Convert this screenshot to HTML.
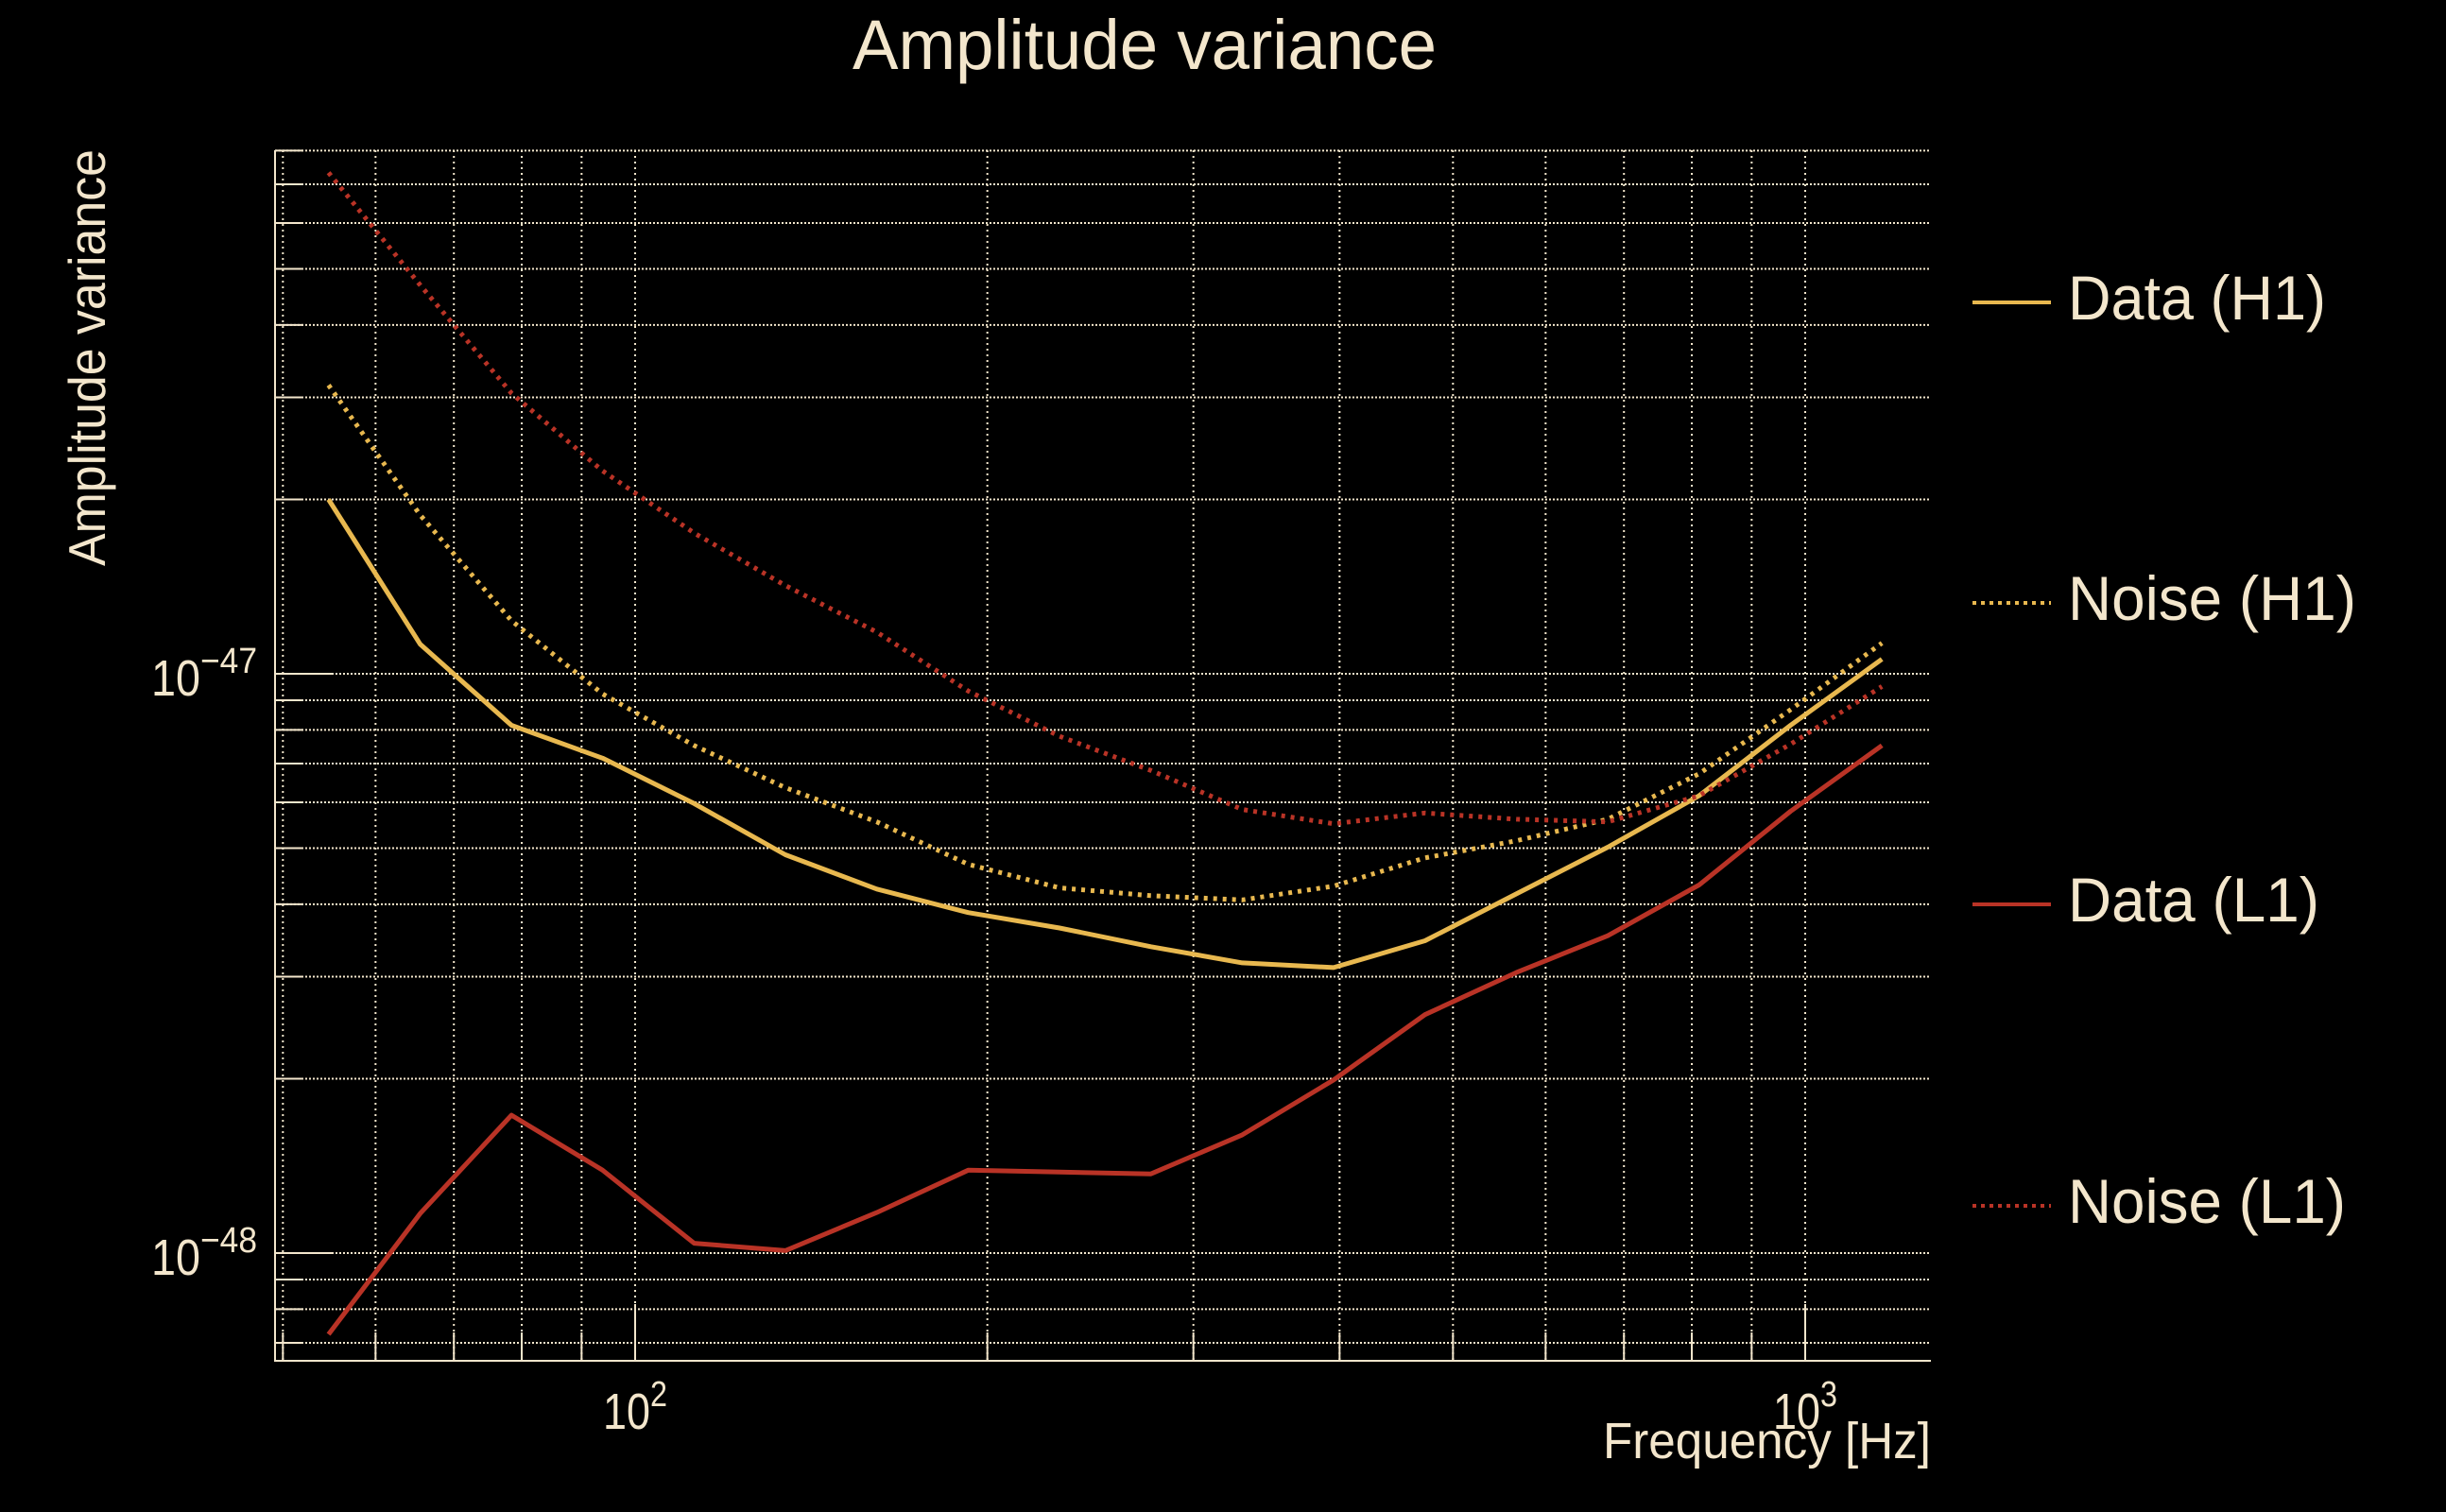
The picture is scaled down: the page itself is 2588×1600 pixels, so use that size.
<!DOCTYPE html>
<html><head><meta charset="utf-8"><style>
html,body{margin:0;padding:0;background:#000;}
svg{display:block;}
text{font-family:"Liberation Sans",sans-serif;fill:#f3e6cc;}
</style></head><body>
<svg id="chart" width="2588" height="1600" viewBox="0 0 2588 1600" xmlns="http://www.w3.org/2000/svg">
<rect width="2588" height="1600" fill="#000"/>
<text x="1211" y="73" font-size="74" text-anchor="middle" textLength="618" lengthAdjust="spacingAndGlyphs">Amplitude variance</text>
<text transform="translate(111,158) rotate(-90)" font-size="55" text-anchor="end" textLength="441" lengthAdjust="spacingAndGlyphs">Amplitude variance</text>
<text x="2043" y="1543" font-size="54" text-anchor="end" textLength="347" lengthAdjust="spacingAndGlyphs">Frequency [Hz]</text>
<g id="grid"></g>
<g id="series"></g>
<g id="legend"></g>
</svg>
<script>
const freqs = [54.7, 65.5, 78.4, 93.8, 112.3, 134.4, 160.9, 192.6, 230.5, 275.9, 330.3, 395.3, 473.2, 566.4, 678, 811.6, 971.5, 1163];
const dataH1 = [2.00e-47, 1.125e-47, 8.15e-48, 7.15e-48, 5.97e-48, 4.87e-48, 4.25e-48, 3.87e-48, 3.64e-48, 3.38e-48, 3.17e-48, 3.11e-48, 3.46e-48, 4.17e-48, 5.02e-48, 6.16e-48, 8.15e-48, 1.06e-47];
const noiseH1 = [3.15e-47, 1.88e-47, 1.235e-47, 9.23e-48, 7.52e-48, 6.36e-48, 5.55e-48, 4.69e-48, 4.27e-48, 4.14e-48, 4.07e-48, 4.30e-48, 4.81e-48, 5.15e-48, 5.61e-48, 6.72e-48, 8.67e-48, 1.13e-47];
const dataL1 = [7.24e-49, 1.17e-48, 1.73e-48, 1.39e-48, 1.04e-48, 1.01e-48, 1.175e-48, 1.39e-48, 1.38e-48, 1.37e-48, 1.60e-48, 1.99e-48, 2.58e-48, 3.05e-48, 3.53e-48, 4.32e-48, 5.79e-48, 7.52e-48];
const noiseL1 = [7.33e-47, 4.69e-47, 3.05e-47, 2.24e-47, 1.75e-47, 1.42e-47, 1.18e-47, 9.34e-48, 7.80e-48, 6.81e-48, 5.83e-48, 5.51e-48, 5.75e-48, 5.61e-48, 5.55e-48, 6.16e-48, 7.56e-48, 9.51e-48];
const legendLabels = ["Data (H1)", "Noise (H1)", "Data (L1)", "Noise (L1)"];
const legendWidths = [273, 305, 266, 294];
const xTickExps = [2, 3];
const yTickExps = [-48, -47];

const NS = "http://www.w3.org/2000/svg";
const L = 291, R = 2043, T = 159, B = 1440;
const X2 = 672, XDEC = 1238;
const Y47 = 713, YDEC = 613;
function xs(f){ return X2 + (Math.log10(f) - 2) * XDEC; }
function ys(v){ return Y47 - (Math.log10(v) + 47) * YDEC; }
function mk(tag, attrs, parent){ const e = document.createElementNS(NS, tag); for (const k in attrs) e.setAttribute(k, attrs[k]); parent.appendChild(e); return e; }

const grid = document.getElementById('grid');
const cream = "#f3e6cc";
for (let d = 1; d <= 3; d++) for (let m = 1; m <= 9; m++) {
  const f = m * Math.pow(10, d); const x = xs(f);
  if (x < L - 1 || x > R + 1) continue;
  const g = mk('line', {x1:x, x2:x, y1:T, y2:B, stroke:cream, 'stroke-width':2, 'stroke-dasharray':'2 4'}, grid);
  
  
  const t = mk('line', {x1:x, x2:x, y1:B, y2:B-(m===1?60:30), stroke:cream, 'stroke-width':2}, grid);
  
  
}
for (let d = -49; d <= -47; d++) for (let m = 1; m <= 9; m++) {
  const v = m * Math.pow(10, d); const y = ys(v);
  if (y < T - 1 || y > B + 1) continue;
  const g = mk('line', {x1:L, x2:R, y1:y, y2:y, stroke:cream, 'stroke-width':2, 'stroke-dasharray':'2 2'}, grid);
  
  
  const t = mk('line', {x1:L, x2:L+(m===1?60:30), y1:y, y2:y, stroke:cream, 'stroke-width':2}, grid);
  
  
}
const ax = mk('path', {d:`M${L} ${T} L${L} ${B} L${R} ${B}`, fill:'none', stroke:cream, 'stroke-width':2}, grid);


xTickExps.forEach(e => {
  const x = xs(Math.pow(10, e));
  const t = mk('text', {x:x-34, y:1512, 'font-size':54}, grid);
  
  
  t.innerHTML = `<tspan textLength="50" lengthAdjust="spacingAndGlyphs">10</tspan><tspan dy="-24" font-size="38" textLength="18" lengthAdjust="spacingAndGlyphs">${e}</tspan>`;
});
yTickExps.forEach(e => {
  const y = ys(Math.pow(10, e));
  const t = mk('text', {x:160, y:y+23, 'font-size':54}, grid);
  
  
  t.innerHTML = `<tspan textLength="52" lengthAdjust="spacingAndGlyphs">10</tspan><tspan dy="-24" font-size="38" textLength="60" lengthAdjust="spacingAndGlyphs">\u2212${-e}</tspan>`;
});

const yellow = "#e8b84f", red = "#b93326";
const styles = [
  {vals:dataH1, color:yellow, dash:null, name:'data-h1-line'},
  {vals:noiseH1, color:yellow, dash:'4 6', name:'noise-h1-line'},
  {vals:dataL1, color:red, dash:null, name:'data-l1-line'},
  {vals:noiseL1, color:red, dash:'4 6', name:'noise-l1-line'}
];
const sg = document.getElementById('series');
const lg = document.getElementById('legend');
const legY = [320, 638, 957, 1276];
styles.forEach((s, i) => {
  const d = s.vals.map((v, k) => (k ? 'L' : 'M') + xs(freqs[k]).toFixed(1) + ' ' + ys(v).toFixed(1)).join(' ');
  const p = mk('path', {d:d, fill:'none', stroke:s.color, 'stroke-width':5, 'stroke-linejoin':'round'}, sg);
  if (s.dash) p.setAttribute('stroke-dasharray', s.dash);
  
  
  const g = mk('g', {}, lg);
  
  
  const ln = mk('line', {x1:2087, x2:2170, y1:legY[i], y2:legY[i], stroke:s.color, 'stroke-width':4}, g);
  if (s.dash) ln.setAttribute('stroke-dasharray', '4 5');
  
  
  const t = mk('text', {x:2188, y:legY[i]+18, 'font-size':66, textLength:legendWidths[i], lengthAdjust:'spacingAndGlyphs'}, g);
  
  
  t.textContent = legendLabels[i];
});
</script>
</body></html>
